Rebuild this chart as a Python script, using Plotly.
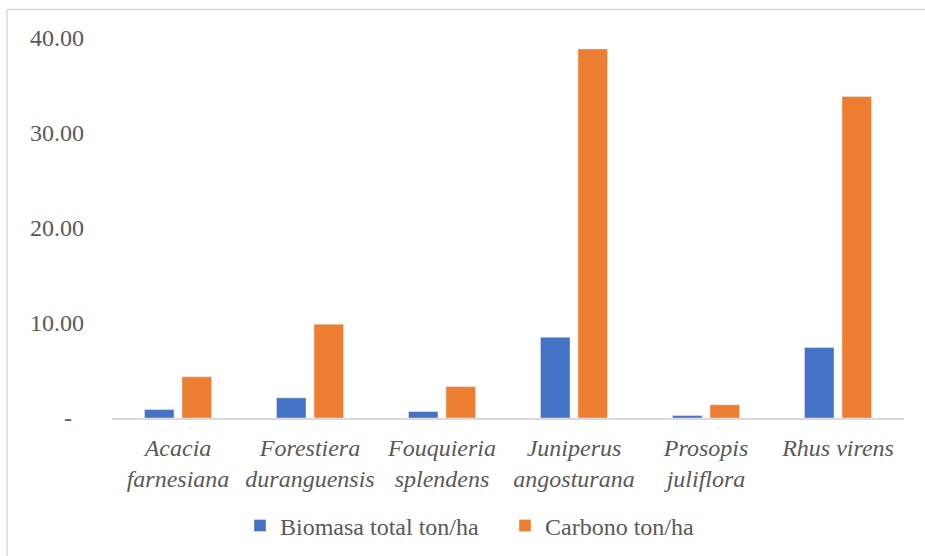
import plotly.graph_objects as go

categories = ["Acacia<br>farnesiana", "Forestiera<br>duranguensis", "Fouquieria<br>splendens",
              "Juniperus<br>angosturana", "Prosopis<br>juliflora", "Rhus virens"]
biomasa = [0.89, 2.12, 0.68, 8.50, 0.26, 7.41]
carbono = [4.33, 9.88, 3.31, 38.85, 1.39, 33.84]
series_names = ["Biomasa total ton/ha", "Carbono ton/ha"]
y_tickvals = [0, 10, 20, 30, 40]
y_ticktext = ["-\u00a0\u00a0", "10.00", "20.00", "30.00", "40.00"]

FONT = "Liberation Serif"
GRAY = "#595959"

fig = go.Figure()
fig.add_trace(go.Bar(x=categories, y=biomasa, name=series_names[0], marker_color="#4472C4"))
fig.add_trace(go.Bar(x=categories, y=carbono, name=series_names[1], marker_color="#ED7D31"))

L, R, T, B = 112, 21, 38, 137.5
W, H = 925, 556
pw = W - L - R
ph = H - T - B

fig.update_layout(
    width=W, height=H,
    margin=dict(l=L, r=R, t=T, b=B, pad=0, autoexpand=False),
    paper_bgcolor="white", plot_bgcolor="white",
    barmode="group", bargap=0.432, bargroupgap=0.213,
    font=dict(family=FONT, size=24, color=GRAY),
    showlegend=True,
    legend=dict(orientation="h", x=(240 - L) / pw, xanchor="left",
                y=(H - B - 526.5) / ph, yanchor="middle",
                entrywidth=220, entrywidthmode="pixels",
                font=dict(family=FONT, size=24, color=GRAY),
                bgcolor="rgba(0,0,0,0)"),
    xaxis=dict(showline=True, linecolor="#d9d9d9", linewidth=1.5, ticks="",
               showgrid=False, tickfont=dict(family=FONT, size=24, color=GRAY, style="italic"),
               ticklabelstandoff=7, automargin=False),
    yaxis=dict(range=[0, 40], tickvals=y_tickvals, ticktext=y_ticktext, showgrid=False,
               zeroline=False, showline=False, ticks="",
               tickfont=dict(family=FONT, size=24, color=GRAY),
               ticklabelstandoff=27, automargin=False),
    shapes=[
        dict(type="line", xref="paper", yref="paper", x0=(7 - L) / pw, x1=(W + 5 - L) / pw,
             y0=(H - B - 9.5) / ph, y1=(H - B - 9.5) / ph, line=dict(color="#d9d9d9", width=1.5)),
        dict(type="line", xref="paper", yref="paper", x0=(7 - L) / pw, x1=(7 - L) / pw,
             y0=(H - B - 9.5) / ph, y1=(H - B - H - 5) / ph, line=dict(color="#d9d9d9", width=1.5)),
    ],
)

fig.write_html("out.html")
